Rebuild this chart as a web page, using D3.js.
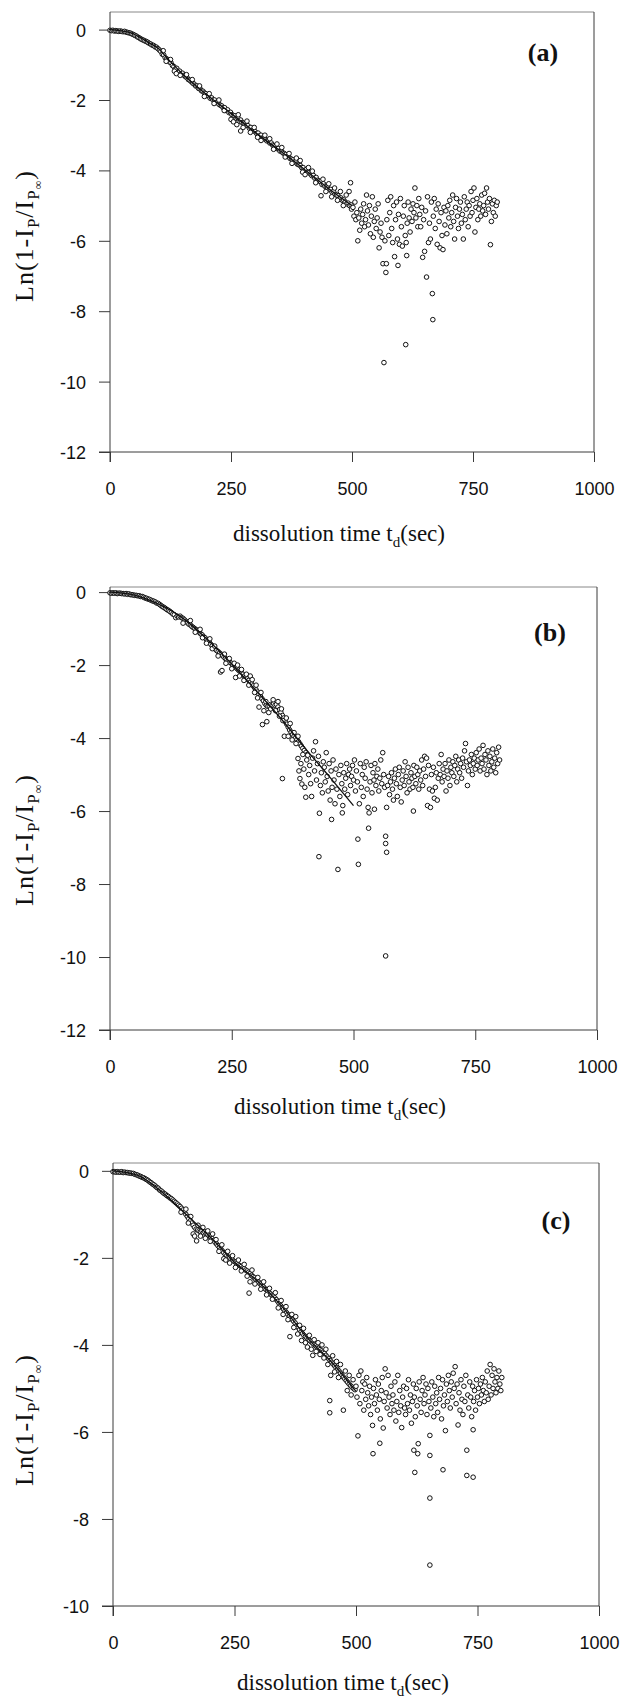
<!DOCTYPE html>
<html><head><meta charset="utf-8">
<script src="https://cdn.jsdelivr.net/npm/d3@7"></script>
<style>body{margin:0;background:#fff}</style>
</head><body>
<svg id="chart" width="624" height="1698"></svg>
<script>
// ---------- DATA ----------
const xTicks = [0, 250, 500, 750, 1000];
const yTicksAB = [0, -2, -4, -6, -8, -10, -12];
const yTicksC = [0, -2, -4, -6, -8, -10];
const panelLabels = ["(a)", "(b)", "(c)"];

const pointsA = [[0,-0.02],[3,-0.03],[6,-0.02],[9,-0.04],[12,-0.03],[15,-0.04],[18,-0.05],[21,-0.04],[24,-0.05],[27,-0.06],[30,-0.05],[33,-0.07],[36,-0.08],[39,-0.09],[42,-0.1],[45,-0.12],[48,-0.14],[51,-0.16],[54,-0.18],[57,-0.21],[60,-0.23],[63,-0.26],[66,-0.28],[69,-0.3],[72,-0.32],[75,-0.34],[78,-0.36],[81,-0.39],[84,-0.41],[87,-0.44],[90,-0.45],[93,-0.49],[96,-0.5],[99,-0.54],[102,-0.58],[105,-0.62],[108,-0.7],[111,-0.72],[114,-0.8],[117,-0.83],[120,-0.86],[123,-0.92],[126,-0.94],[129,-1.02],[132,-1.05],[135,-1.12],[138,-1.1],[141,-1.2],[144,-1.18],[147,-1.25],[150,-1.24],[153,-1.3],[156,-1.34],[159,-1.36],[162,-1.42],[165,-1.44],[168,-1.48],[171,-1.52],[174,-1.55],[177,-1.6],[180,-1.6],[183,-1.67],[186,-1.68],[189,-1.74],[192,-1.75],[195,-1.8],[198,-1.82],[201,-1.88],[204,-1.88],[207,-1.95],[210,-1.94],[213,-2.0],[216,-2.0],[219,-2.07],[222,-2.06],[225,-2.12],[228,-2.15],[231,-2.17],[234,-2.22],[237,-2.22],[240,-2.3],[243,-2.28],[246,-2.36],[249,-2.35],[252,-2.42],[255,-2.44],[258,-2.45],[261,-2.52],[264,-2.5],[267,-2.6],[270,-2.57],[273,-2.64],[276,-2.66],[279,-2.68],[282,-2.72],[285,-2.73],[288,-2.8],[291,-2.78],[294,-2.86],[297,-2.87],[300,-2.9],[303,-2.95],[306,-2.94],[309,-3.02],[312,-3.0],[315,-3.08],[318,-3.08],[321,-3.12],[324,-3.16],[327,-3.15],[330,-3.22],[333,-3.22],[336,-3.28],[339,-3.3],[342,-3.32],[345,-3.38],[348,-3.38],[351,-3.45],[354,-3.45],[357,-3.5],[360,-3.52],[363,-3.55],[366,-3.6],[369,-3.6],[372,-3.66],[375,-3.68],[378,-3.7],[381,-3.76],[384,-3.75],[387,-3.82],[390,-3.84],[393,-3.86],[396,-3.92],[399,-3.92],[402,-4.0],[405,-3.98],[408,-4.05],[411,-4.06],[414,-4.1],[417,-4.15],[420,-4.14],[423,-4.22],[426,-4.2],[429,-4.28],[432,-4.3],[435,-4.32],[438,-4.4],[441,-4.38],[444,-4.45],[447,-4.47],[450,-4.5],[453,-4.55],[456,-4.54],[459,-4.62],[462,-4.6],[465,-4.68],[468,-4.7],[471,-4.72],[474,-4.8],[477,-4.78],[480,-4.85],[483,-4.84],[486,-4.9],[489,-4.95],[492,-4.93],[495,-5.0],[498,-4.98],
[110,-0.6],[116,-0.9],[125,-0.85],[133,-1.18],[137,-1.25],[145,-1.3],[158,-1.28],[170,-1.42],[185,-1.6],[195,-1.9],[205,-1.82],[215,-2.1],[225,-2.0],[236,-2.3],[250,-2.55],[255,-2.62],[262,-2.7],[265,-2.42],[270,-2.88],[275,-2.78],[283,-2.6],[290,-2.92],[298,-2.78],[305,-3.06],[312,-3.15],[320,-3.0],[330,-3.1],[338,-3.4],[345,-3.25],[355,-3.35],[362,-3.62],[370,-3.52],[376,-3.8],[385,-3.65],[393,-3.72],[398,-4.05],[403,-4.12],[410,-3.92],[418,-4.02],[425,-4.35],[436,-4.72],[440,-4.25],[446,-4.6],[452,-4.38],[458,-4.75],[464,-4.5],[470,-4.85],[476,-4.6],[482,-5.0],[488,-4.7],[494,-4.6],[497,-4.35],[499,-5.1],
[502,-5.05],[504,-5.3],[506,-4.9],[508,-5.4],[510,-5.2],[512,-6.0],[514,-5.35],[516,-5.7],[518,-5.1],[520,-5.5],[522,-5.25],[524,-4.95],[526,-5.6],[528,-5.4],[530,-4.7],[532,-5.15],[534,-5.55],[536,-5.0],[538,-5.8],[540,-5.3],[542,-4.75],[544,-5.9],[546,-5.45],[548,-5.1],[550,-5.65],[552,-5.35],[554,-4.95],[556,-6.2],[558,-5.75],[560,-5.5],
[562,-5.9],[564,-6.65],[566,-9.46],[568,-6.0],[570,-6.9],[571,-6.65],[572,-5.4],[574,-4.85],[576,-5.85],[578,-5.2],[580,-4.75],[582,-5.65],[584,-6.05],[586,-5.0],[588,-6.45],[590,-5.4],[592,-4.9],[594,-5.95],[595,-6.7],[596,-5.25],[598,-6.1],[600,-4.8],[602,-5.6],[604,-6.15],[606,-5.3],[608,-5.0],[610,-5.85],[611,-8.95],[612,-6.05],[613,-6.42],[614,-5.5],[616,-4.9],[618,-5.35],[620,-5.75],
[622,-5.1],[624,-5.45],[626,-4.95],[628,-5.2],[630,-4.5],[632,-5.35],[634,-5.0],[636,-5.6],[638,-4.8],[640,-5.25],[642,-5.6],[644,-5.05],[646,-6.47],[648,-5.4],[650,-6.3],[652,-5.15],[654,-7.03],[656,-4.75],[658,-6.05],[660,-5.5],[662,-5.95],[664,-4.9],[666,-7.5],[667,-8.24],[668,-5.3],[670,-4.8],[672,-5.65],[674,-5.1],[676,-6.1],[678,-4.95],[680,-5.45],[682,-6.2],[684,-5.2],[686,-5.85],[688,-6.25],[690,-5.05],[692,-5.55],[694,-5.15],[696,-5.8],[698,-5.0],[700,-5.35],
[702,-4.85],[704,-5.6],[706,-5.2],[708,-4.7],[710,-5.45],[712,-5.95],[714,-5.05],[716,-4.8],[718,-5.3],[720,-5.65],[722,-5.1],[724,-4.9],[726,-5.5],[728,-5.25],[730,-5.95],[732,-4.75],[734,-5.4],[736,-5.1],[738,-4.9],[740,-5.6],[742,-5.0],[744,-5.3],[746,-4.6],[748,-5.2],[750,-4.85],[752,-4.5],[754,-5.75],[756,-5.05],[758,-4.8],[760,-5.4],[762,-5.1],[764,-4.95],[766,-5.3],[768,-4.7],[770,-5.15],[772,-5.0],[774,-4.65],[776,-5.25],[778,-4.5],[780,-4.9],[782,-5.1],[784,-4.8],[786,-6.11],[788,-5.45],[790,-4.95],[792,-5.2],[794,-4.85],[796,-5.3],[798,-5.0],[800,-4.9]];

const pointsB = [[0,-0.02],[3,-0.03],[6,-0.02],[9,-0.03],[12,-0.02],[15,-0.04],[18,-0.03],[21,-0.03],[24,-0.04],[27,-0.04],[30,-0.05],[33,-0.04],[36,-0.06],[39,-0.05],[42,-0.07],[45,-0.07],[48,-0.08],[51,-0.09],[54,-0.09],[57,-0.1],[60,-0.1],[63,-0.12],[66,-0.12],[69,-0.14],[72,-0.16],[75,-0.17],[78,-0.19],[81,-0.2],[84,-0.22],[87,-0.24],[90,-0.25],[93,-0.27],[96,-0.3],[99,-0.31],[102,-0.34],[105,-0.37],[108,-0.4],[111,-0.42],[114,-0.45],[117,-0.48],[120,-0.5],[123,-0.53],[126,-0.56],[129,-0.6],[132,-0.62],[135,-0.7],[138,-0.66],[141,-0.68],[144,-0.66],[147,-0.7],[150,-0.72],[153,-0.76],[156,-0.8],[159,-0.84],[162,-0.88],[165,-0.9],[168,-0.94],[171,-0.97],[174,-1.0],[177,-1.03],[180,-1.06],[183,-1.1],[186,-1.14],[189,-1.17],[192,-1.22],[195,-1.25],[198,-1.3],[201,-1.33],[204,-1.38],[207,-1.43],[210,-1.47],[213,-1.52],[216,-1.56],[219,-1.6],[222,-1.63],[225,-1.67],[228,-1.7],[231,-1.74],[234,-1.78],[237,-1.82],[240,-1.85],[243,-1.88],[246,-1.92],[249,-1.95],[252,-2.0],[255,-2.03],[258,-2.06],[261,-2.1],[264,-2.14],[267,-2.17],[270,-2.22],[273,-2.25],[276,-2.3],[279,-2.34],[282,-2.38],[285,-2.42],[288,-2.47],[291,-2.52],[294,-2.57],[297,-2.62],[300,-2.68],[303,-2.74],[306,-2.8],[309,-2.86],[312,-2.92],[315,-2.98],[318,-3.05],[321,-3.1],[324,-3.13],[327,-3.12],[330,-3.08],[333,-3.1],[336,-3.06],[339,-3.1],[342,-3.08],[345,-3.15],[348,-3.22],[351,-3.3],[354,-3.38],[357,-3.45],[360,-3.55],[363,-3.62],[366,-3.7],[369,-3.78],[372,-3.84],[375,-3.9],[378,-3.95],[381,-4.0],[384,-4.04],[387,-4.1],[390,-4.16],[393,-4.22],[396,-4.28],[399,-4.34],[402,-4.4],[405,-4.45],
[150,-0.85],[165,-0.78],[175,-1.1],[185,-1.02],[190,-1.25],[198,-1.4],[205,-1.28],[210,-1.55],[215,-1.48],[222,-1.75],[227,-2.19],[230,-2.15],[235,-1.7],[238,-1.95],[245,-1.82],[250,-2.1],[255,-1.95],[258,-2.34],[262,-2.0],[266,-2.3],[270,-2.12],[275,-2.42],[280,-2.25],[285,-2.55],[288,-2.3],[292,-2.4],[297,-2.75],[300,-2.55],[303,-2.9],[306,-3.15],[310,-2.75],[313,-3.63],[316,-3.25],[320,-3.0],[322,-3.55],[326,-3.3],[330,-3.2],[335,-2.95],[340,-3.25],[345,-3.0],[348,-3.4],[352,-3.2],[355,-3.52],[358,-3.95],[362,-3.45],[366,-3.95],[370,-3.6],[374,-4.05],[378,-3.85],[382,-4.15],[386,-3.95],[354,-5.11],
[386,-4.56],[388,-4.9],[390,-5.11],[392,-4.7],[394,-5.26],[396,-4.45],[398,-4.85],[400,-5.35],[402,-5.62],[404,-4.6],[406,-4.47],[408,-5.0],[410,-4.75],[412,-5.25],[414,-5.6],[416,-4.55],[418,-4.35],[420,-4.9],[422,-4.1],[424,-5.15],[426,-4.7],[428,-4.5],[429,-7.25],[430,-6.06],[432,-5.3],[434,-4.95],[436,-5.5],[438,-4.65],[440,-4.8],[442,-5.2],[444,-4.4],[446,-5.05],[448,-5.45],[450,-4.7],[452,-5.7],[454,-4.9],[455,-6.23],[456,-5.35],[458,-4.6],[460,-5.15],[462,-5.8],[464,-4.85],[466,-5.4],[468,-7.6],[470,-5.0],[472,-5.6],[474,-4.75],[476,-5.25],[477,-6.05],[478,-5.85],[480,-4.95],[482,-5.4],[484,-5.1],[486,-4.7],[488,-5.55],[490,-5.0],[492,-4.85],[494,-5.3],[496,-5.05],[498,-4.75],[500,-5.15],[502,-4.6],[504,-5.45],[506,-4.9],[508,-5.2],[509,-6.77],[510,-7.46],[512,-5.8],[514,-4.7],[516,-5.35],[518,-5.0],[520,-5.6],[522,-4.8],[524,-5.1],[526,-4.65],[528,-5.4],[530,-5.9],[531,-6.47],[532,-6.05],[534,-5.2],[536,-4.75],[538,-5.5],[540,-4.95],[542,-5.15],[543,-5.95],[544,-4.7],[546,-5.3],[548,-5.05],[550,-4.85],[552,-5.45],[554,-5.1],[556,-4.6],[558,-5.25],[560,-4.4],[562,-5.0],[564,-5.35],[566,-6.69],[566,-6.89],[566,-9.97],[568,-7.13],[568,-5.9],[570,-5.3],[572,-5.05],[574,-5.55],[576,-5.2],[578,-4.95],[580,-5.4],[582,-5.7],[584,-5.1],[586,-4.85],[588,-5.25],[590,-5.6],[592,-5.0],[594,-4.8],[596,-5.35],[598,-5.75],[600,-5.15],[602,-4.9],[604,-5.3],[606,-4.65],[608,-5.05],[610,-5.5],[612,-4.8],[614,-5.2],[616,-5.4],[618,-4.95],[620,-5.1],[622,-5.35],[623,-6.0],[624,-4.75],[626,-5.05],[628,-5.25],[630,-4.8],[632,-5.0],[634,-5.4],[636,-4.9],[638,-5.15],[640,-4.6],[642,-5.3],[644,-4.85],[646,-4.5],[648,-5.05],[650,-4.55],[652,-5.85],[654,-4.75],[656,-5.4],[658,-5.9],[660,-5.0],[662,-5.45],[664,-4.8],[666,-5.65],[668,-5.35],[670,-4.95],[672,-5.7],[674,-5.1],[676,-4.7],[678,-5.0],[680,-4.45],[682,-5.2],[684,-4.85],[686,-5.05],[688,-4.7],[690,-5.45],[692,-4.9],[694,-5.1],[696,-4.6],[698,-5.3],[700,-4.8],[702,-4.95],[704,-4.65],[706,-5.05],[708,-4.75],[710,-4.5],[712,-5.2],[714,-4.85],[716,-4.6],[718,-4.95],[720,-4.7],[722,-5.1],[724,-4.55],[726,-4.8],[728,-4.35],[730,-4.15],[732,-4.65],[734,-5.3],[736,-4.9],[738,-4.6],[740,-4.75],[742,-4.45],[744,-5.0],[746,-4.7],[748,-4.55],[750,-4.85],[752,-4.4],[754,-4.75],[756,-4.6],[758,-4.3],[760,-4.9],[762,-4.55],[764,-4.7],[766,-4.2],[768,-4.85],[770,-4.45],[772,-4.6],[774,-5.0],[776,-4.35],[778,-4.75],[780,-4.5],[782,-4.9],[784,-4.65],[786,-4.3],[788,-4.8],[790,-4.55],[792,-4.95],[794,-4.4],[796,-4.7],[798,-4.25],[800,-4.6]];

const pointsC = [[0,-0.02],[3,-0.02],[6,-0.03],[9,-0.02],[12,-0.03],[15,-0.03],[18,-0.02],[21,-0.04],[24,-0.03],[27,-0.04],[30,-0.04],[33,-0.05],[36,-0.05],[39,-0.06],[42,-0.06],[45,-0.08],[48,-0.09],[51,-0.1],[54,-0.12],[57,-0.13],[60,-0.15],[63,-0.16],[66,-0.18],[69,-0.2],[72,-0.22],[75,-0.25],[78,-0.27],[81,-0.3],[84,-0.32],[87,-0.35],[90,-0.38],[93,-0.4],[96,-0.44],[99,-0.46],[102,-0.49],[105,-0.52],[108,-0.54],[111,-0.57],[114,-0.59],[117,-0.62],[120,-0.64],[123,-0.67],[126,-0.7],[129,-0.73],[132,-0.76],[135,-0.79],[138,-0.82],[141,-0.86],[144,-0.9],[147,-0.95],[150,-1.0],[153,-1.05],[156,-1.1],[159,-1.15],[162,-1.2],[165,-1.25],[168,-1.3],[171,-1.34],[174,-1.36],[177,-1.38],[180,-1.4],[183,-1.38],[186,-1.42],[189,-1.4],[192,-1.45],[195,-1.47],[198,-1.5],[201,-1.52],[204,-1.56],[207,-1.6],[210,-1.64],[213,-1.68],[216,-1.72],[219,-1.76],[222,-1.8],[225,-1.84],[228,-1.88],[231,-1.92],[234,-1.95],[237,-1.98],[240,-2.0],[243,-2.03],[246,-2.05],[249,-2.08],[252,-2.1],[255,-2.13],[258,-2.16],[261,-2.18],[264,-2.2],[267,-2.23],[270,-2.25],[273,-2.28],[276,-2.3],[279,-2.33],[282,-2.36],[285,-2.4],[288,-2.43],[291,-2.46],[294,-2.5],[297,-2.53],[300,-2.56],[303,-2.6],[306,-2.63],[309,-2.66],[312,-2.7],[315,-2.73],[318,-2.76],[321,-2.8],[324,-2.83],[327,-2.86],[330,-2.88],[333,-2.92],[336,-2.96],[339,-3.0],[342,-3.05],[345,-3.1],[348,-3.14],[351,-3.18],[354,-3.22],[357,-3.26],[360,-3.3],[363,-3.34],[366,-3.38],[369,-3.42],[372,-3.46],[375,-3.5],[378,-3.56],[381,-3.6],[384,-3.65],[387,-3.7],[390,-3.74],[393,-3.78],[396,-3.81],[399,-3.84],[402,-3.87],[405,-3.9],[408,-3.93],[411,-3.96],[414,-3.99],[417,-4.02],[420,-4.05],[423,-4.08],[426,-4.11],[429,-4.14],[432,-4.17],[435,-4.2],[438,-4.24],[441,-4.28],[444,-4.32],[447,-4.36],[450,-4.4],[453,-4.44],[456,-4.48],[459,-4.52],[462,-4.56],[465,-4.6],[468,-4.65],[471,-4.7],[474,-4.74],[477,-4.78],[480,-4.82],[483,-4.86],[486,-4.9],[489,-4.94],[492,-4.97],[495,-5.0],[498,-5.03],
[140,-0.95],[150,-0.88],[155,-1.2],[160,-1.05],[165,-1.45],[168,-1.5],[172,-1.61],[175,-1.25],[180,-1.5],[185,-1.3],[190,-1.55],[195,-1.38],[200,-1.62],[205,-1.45],[212,-1.58],[218,-1.85],[224,-1.7],[228,-2.02],[232,-2.05],[236,-1.85],[240,-2.12],[246,-1.95],[252,-2.22],[258,-2.05],[264,-2.3],[270,-2.15],[276,-2.42],[280,-2.81],[282,-2.55],[286,-2.28],[292,-2.6],[298,-2.45],[304,-2.72],[310,-2.55],[316,-2.85],[322,-2.7],[328,-2.95],[334,-2.8],[340,-3.15],[346,-2.98],[350,-3.3],[356,-3.12],[360,-3.42],[364,-3.81],[368,-3.3],[372,-3.6],[376,-3.35],[380,-3.75],[384,-3.55],[388,-3.9],[392,-3.62],[396,-3.95],[400,-4.05],[404,-3.78],[408,-4.1],[411,-4.24],[414,-3.88],[418,-4.15],[422,-3.95],[426,-4.22],[430,-4.0],[434,-4.3],[438,-4.1],[442,-4.45],[446,-5.28],[446,-5.56],[448,-4.7],[452,-4.25],[456,-4.62],[460,-4.38],[464,-4.75],[468,-4.45],[474,-5.5],[478,-4.6],[482,-5.05],[486,-4.7],[490,-5.15],[494,-4.8],
[500,-4.95],[502,-5.2],[504,-6.09],[506,-4.7],[508,-5.35],[510,-4.6],[512,-5.05],[514,-4.85],[516,-5.5],[518,-4.9],[520,-5.25],[522,-4.75],[524,-5.1],[526,-5.4],[528,-4.95],[530,-5.6],[532,-5.2],[534,-5.85],[535,-6.5],[536,-5.0],[538,-5.35],[540,-4.8],[542,-5.15],[544,-5.5],[546,-4.9],[548,-5.25],[549,-6.26],[550,-5.7],[552,-5.05],[554,-4.75],[556,-5.91],[558,-5.3],[560,-4.55],[562,-5.1],[564,-5.45],[566,-4.7],[568,-5.2],[570,-5.6],[572,-4.95],[574,-5.35],[576,-5.15],[578,-5.5],[580,-4.85],[582,-5.75],[584,-5.3],[586,-4.7],[588,-5.55],[590,-5.05],[592,-5.4],[594,-5.9],[596,-5.2],[598,-4.95],[600,-5.45],[602,-5.6],[604,-5.0],[606,-5.35],[608,-4.8],[610,-5.5],[612,-5.15],[614,-5.8],[616,-5.3],[618,-4.9],[619,-6.42],[620,-5.2],[621,-6.93],[622,-5.65],[624,-5.0],[626,-5.4],[627,-6.5],[628,-6.27],[630,-4.85],[632,-5.25],[634,-5.55],[636,-5.05],[638,-4.75],[640,-5.35],[642,-5.15],[644,-4.9],[646,-5.6],[648,-5.0],[650,-5.3],[652,-6.08],[652,-6.54],[652,-7.52],[652,-9.06],[654,-5.45],[656,-4.85],[658,-5.2],[660,-5.65],[662,-4.95],[664,-5.35],[666,-5.1],[668,-5.55],[670,-4.75],[672,-5.25],[674,-5.0],[676,-5.7],[678,-4.8],[679,-6.87],[680,-5.4],[682,-5.15],[684,-5.97],[686,-4.9],[688,-5.3],[690,-4.7],[692,-5.05],[694,-5.45],[696,-4.85],[698,-5.2],[700,-4.65],[702,-5.0],[704,-4.5],[706,-5.35],[708,-4.9],[710,-5.84],[712,-5.1],[714,-5.5],[716,-4.8],[718,-5.25],[720,-5.6],[722,-4.95],[724,-5.3],[726,-4.7],[728,-6.42],[728,-7.0],[730,-5.15],[732,-5.45],[734,-4.85],[736,-5.2],[738,-5.65],[740,-4.95],[741,-7.04],[741,-5.95],[742,-5.3],[744,-5.05],[746,-5.5],[748,-4.8],[750,-5.2],[752,-5.0],[754,-5.35],[756,-4.9],[758,-5.15],[760,-4.75],[762,-5.05],[764,-5.3],[766,-4.85],[768,-5.1],[770,-4.6],[772,-5.25],[774,-4.95],[776,-4.45],[778,-5.15],[780,-4.7],[782,-5.0],[784,-4.55],[786,-4.85],[788,-5.1],[790,-4.75],[792,-5.0],[794,-4.6],[796,-4.9],[798,-5.05],[800,-4.75]];

const fitA = [[0,0],[40,-0.08],[80,-0.37],[100,-0.54],[120,-0.84],[150,-1.26],[200,-1.85],[250,-2.38],[300,-2.92],[350,-3.43],[400,-3.95],[450,-4.5],[500,-5.0]];
const fitB = [[0,0],[50,-0.08],[100,-0.33],[150,-0.72],[200,-1.3],[250,-1.97],[300,-2.7],[350,-3.45],[400,-4.27],[450,-5.05],[500,-5.85]];
const fitC = [[0,0],[50,-0.1],[100,-0.48],[150,-1.0],[200,-1.52],[250,-2.1],[300,-2.56],[350,-3.15],[400,-3.84],[450,-4.4],[500,-5.07]];

// ---------- LAYOUT ----------
const panels = [
  {pts: pointsA, fit: fitA, yTicks: yTicksAB, yDom: [-12, 0.5], left: 110, right: 594, top: 12, bottom: 452, label: panelLabels[0], labelX: 543, labelY: 61, yTitleY: 236, xTitleX: 339, xTitleY: 541},
  {pts: pointsB, fit: fitB, yTicks: yTicksAB, yDom: [-12, 0.14], left: 110, right: 597, top: 587, bottom: 1030, label: panelLabels[1], labelX: 550, labelY: 641, yTitleY: 840, xTitleX: 340, xTitleY: 1114},
  {pts: pointsC, fit: fitC, yTicks: yTicksC, yDom: [-10, 0.18], left: 113, right: 599, top: 1163, bottom: 1606, label: panelLabels[2], labelX: 556, labelY: 1229, yTitleY: 1420, xTitleX: 343, xTitleY: 1690}
];

const svg = d3.select("#chart");
svg.append("rect").attr("width", 624).attr("height", 1698).attr("fill", "#fff");
const axisColor = "#3a3a3a";
const sansFont = "'Liberation Sans', Arial, sans-serif";
const serifFont = "'Liberation Serif', 'Times New Roman', serif";

panels.forEach(p => {
  const x = d3.scaleLinear().domain([0, 1000]).range([p.left, p.right]);
  const y = d3.scaleLinear().domain(p.yDom).range([p.bottom, p.top]);
  const g = svg.append("g");

  // frame: top and right
  g.append("line").attr("x1", p.left).attr("x2", p.right).attr("y1", p.top).attr("y2", p.top)
    .attr("stroke", "#888").attr("stroke-width", 1);
  g.append("line").attr("x1", p.right).attr("x2", p.right).attr("y1", p.top).attr("y2", p.bottom)
    .attr("stroke", axisColor).attr("stroke-width", 1);

  const xAxis = g.append("g").attr("transform", `translate(0,${p.bottom})`)
    .call(d3.axisBottom(x).tickValues(xTicks).tickSize(10).tickSizeOuter(0).tickPadding(20).tickFormat(d => String(d)));
  const yAxis = g.append("g").attr("transform", `translate(${p.left},0)`)
    .call(d3.axisLeft(y).tickValues(p.yTicks).tickSize(11).tickSizeOuter(0).tickPadding(13).tickFormat(d => String(d)));
  [xAxis, yAxis].forEach(a => {
    a.select(".domain").attr("stroke", axisColor).attr("stroke-width", 1);
    a.selectAll(".tick line").attr("stroke", axisColor).attr("stroke-width", 1);
    a.selectAll(".tick text").attr("fill", "#111").style("font-family", sansFont).style("font-size", "18px");
  });
  yAxis.selectAll(".tick text").attr("dy", "0.36em");
  yAxis.select(".domain").attr("d", `M0,${p.top}V${p.bottom + 10}`);
  xAxis.select(".domain").attr("d", `M${p.left - 11},0H${p.right}`);
  xAxis.selectAll(".tick text").attr("dy", "0.71em");

  // scatter
  g.append("g").selectAll("circle").data(p.pts).join("circle")
    .attr("cx", d => x(d[0])).attr("cy", d => y(d[1])).attr("r", 2.3)
    .attr("fill", "#fff").attr("stroke", "#111").attr("stroke-width", 1);

  // fit line
  g.append("path").datum(p.fit)
    .attr("d", d3.line().x(d => x(d[0])).y(d => y(d[1])).curve(d3.curveMonotoneX))
    .attr("fill", "none").attr("stroke", "#111").attr("stroke-width", 1.3);

  // panel label
  g.append("text").attr("x", p.labelX).attr("y", p.labelY).attr("text-anchor", "middle")
    .style("font-family", serifFont).style("font-weight", "bold").style("font-size", "26px").attr("fill", "#111").text(p.label);

  // x title
  const xt = g.append("text").attr("x", p.xTitleX).attr("y", p.xTitleY)
    .attr("text-anchor", "middle").style("font-family", serifFont).style("font-size", "23px").attr("fill", "#111");
  xt.append("tspan").text("dissolution time t");
  xt.append("tspan").attr("dy", 6).style("font-size", "15px").text("d");
  xt.append("tspan").attr("dy", -6).text("(sec)");

  // y title
  const yt = g.append("text").attr("transform", `translate(33,${p.yTitleY}) rotate(-90)`)
    .attr("text-anchor", "middle").style("font-family", serifFont).style("font-size", "26px")
    .style("letter-spacing", "1px").attr("fill", "#111");
  yt.append("tspan").text("Ln(1-I");
  yt.append("tspan").attr("dy", 6).style("font-size", "17px").text("P");
  yt.append("tspan").attr("dy", -6).text("/I");
  yt.append("tspan").attr("dy", 6).style("font-size", "17px").text("P");
  yt.append("tspan").attr("dy", 3).style("font-size", "12px").text("∞");
  yt.append("tspan").attr("dy", -9).text(")");
});
</script>
</body></html>
